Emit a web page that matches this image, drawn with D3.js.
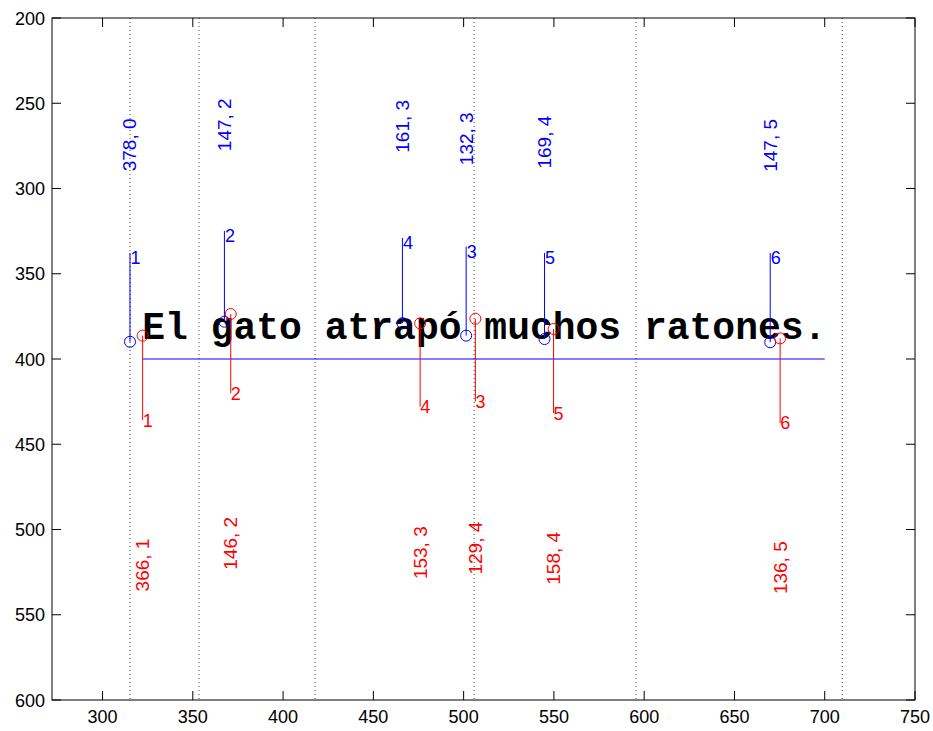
<!DOCTYPE html>
<html>
<head>
<meta charset="utf-8">
<script src="https://cdn.jsdelivr.net/npm/d3@7"></script>
<style>
  body { margin: 0; background: #fff; }
  svg { display: block; }
</style>
</head>
<body>
<svg id="grafico" width="933" height="731"></svg>
<script>
// word boundaries (dotted lines)
const limites = [315.2, 353.4, 417.7, 505.8, 595.5, 709.7];

// blue series
const azulX = [315.2, 367.5, 466.1, 501.4, 544.8, 669.8];
const azulY = [389.9, 378.1, 379.0, 386.3, 388.3, 390.2];
const azulTope = [337.8, 324.9, 329.0, 334.1, 337.8, 337.8];
const azulNum = ["1", "2", "4", "3", "5", "6"];
const azulEtiq = ["378, 0", "147, 2", "161, 3", "132, 3", "169, 4", "147, 5"];
const azulEtiqY = [289.9, 278.1, 279.0, 286.3, 288.3, 290.2];

// red series
const rojoX = [322.2, 371.0, 475.9, 506.5, 549.8, 675.3];
const rojoY = [386.3, 373.6, 379.1, 376.4, 382.4, 387.9];
const rojoFondo = [435.8, 420.1, 428.0, 425.0, 431.7, 437.5];
const rojoNum = ["1", "2", "4", "3", "5", "6"];
const rojoEtiq = ["366, 1", "146, 2", "153, 3", "129, 4", "158, 4", "136, 5"];
const rojoEtiqY = [536.3, 523.6, 529.1, 526.4, 532.4, 537.9];

// sentence and base line
const frase = "El gato atrapó muchos ratones.";
const fraseX = 322, fraseY = 388;
const lineaBase = [[322, 400], [700, 400]];

const xTicks = [300, 350, 400, 450, 500, 550, 600, 650, 700, 750];
const yTicks = [200, 250, 300, 350, 400, 450, 500, 550, 600];

const margen = { left: 52, right: 915, top: 18, bottom: 700 };
const svg = d3.select("#grafico");

const x = d3.scaleLinear().domain([272, 750]).range([margen.left, margen.right]);
const y = d3.scaleLinear().domain([200, 600]).range([margen.top, margen.bottom]);

const fuente = "'Liberation Sans', Arial, Helvetica, sans-serif";
const tick = 9;

svg.append("rect")
    .attr("width", 933).attr("height", 731).attr("fill", "#fff");

// dotted lines
svg.append("g").selectAll("line")
    .data(limites)
    .join("line")
    .attr("x1", d => x(d)).attr("x2", d => x(d))
    .attr("y1", margen.top).attr("y2", margen.bottom)
    .attr("stroke", "#444")
    .attr("stroke-width", 1)
    .attr("stroke-dasharray", "1,3");

// axes frame + ticks
const ejes = svg.append("g").attr("stroke", "#000").attr("stroke-width", 1);
ejes.append("rect")
    .attr("x", margen.left).attr("y", margen.top)
    .attr("width", margen.right - margen.left)
    .attr("height", margen.bottom - margen.top)
    .attr("fill", "none");

xTicks.forEach(t => {
    ejes.append("line").attr("x1", x(t)).attr("x2", x(t))
        .attr("y1", margen.bottom).attr("y2", margen.bottom - tick);
    ejes.append("line").attr("x1", x(t)).attr("x2", x(t))
        .attr("y1", margen.top).attr("y2", margen.top + tick);
});
yTicks.forEach(t => {
    ejes.append("line").attr("x1", margen.left).attr("x2", margen.left + tick)
        .attr("y1", y(t)).attr("y2", y(t));
    ejes.append("line").attr("x1", margen.right).attr("x2", margen.right - tick)
        .attr("y1", y(t)).attr("y2", y(t));
});

svg.append("g").selectAll("text")
    .data(xTicks)
    .join("text")
    .attr("x", d => x(d))
    .attr("y", margen.bottom + 23)
    .attr("text-anchor", "middle")
    .attr("font-family", fuente)
    .attr("font-size", 18)
    .text(d => d);

svg.append("g").selectAll("text")
    .data(yTicks)
    .join("text")
    .attr("x", margen.left - 7)
    .attr("y", d => y(d) + 6.5)
    .attr("text-anchor", "end")
    .attr("font-family", fuente)
    .attr("font-size", 18)
    .text(d => d);

// base line
svg.append("path")
    .attr("d", d3.line().x(d => x(d[0])).y(d => y(d[1]))(lineaBase))
    .attr("stroke", "#0000ff")
    .attr("stroke-width", 1)
    .attr("fill", "none");

// sentence
svg.append("text")
    .attr("x", x(fraseX))
    .attr("y", y(fraseY))
    .attr("font-family", "'Liberation Mono', 'Courier New', monospace")
    .attr("font-weight", "bold")
    .attr("font-size", 38)
    .attr("fill", "#000")
    .text(frase);

function serie(xs, ys, fin, nums, etiq, etiqY, color, offsetNum, dxNum) {
    const g = svg.append("g");
    xs.forEach((xv, i) => {
        g.append("line")
            .attr("x1", x(xv)).attr("x2", x(xv))
            .attr("y1", y(ys[i])).attr("y2", y(fin[i]))
            .attr("stroke", color).attr("stroke-width", 1);
        g.append("circle")
            .attr("cx", x(xv)).attr("cy", y(ys[i]))
            .attr("r", 5.5)
            .attr("fill", "none")
            .attr("stroke", color).attr("stroke-width", 1);
        g.append("text")
            .attr("x", x(xv) + dxNum)
            .attr("y", y(fin[i]) + offsetNum + 6.5)
            .attr("font-family", fuente)
            .attr("font-size", 18)
            .attr("fill", color)
            .text(nums[i]);
        g.append("text")
            .attr("transform", `translate(${x(xv) + 6.5},${y(etiqY[i])}) rotate(-90)`)
            .attr("font-family", fuente)
            .attr("font-size", 19)
            .attr("fill", color)
            .text(etiq[i]);
    });
}

serie(azulX, azulY, azulTope, azulNum, azulEtiq, azulEtiqY, "#0000ff", 5, 0.5);
serie(rojoX, rojoY, rojoFondo, rojoNum, rojoEtiq, rojoEtiqY, "#ff0000", 0, 0);
</script>
</body>
</html>
